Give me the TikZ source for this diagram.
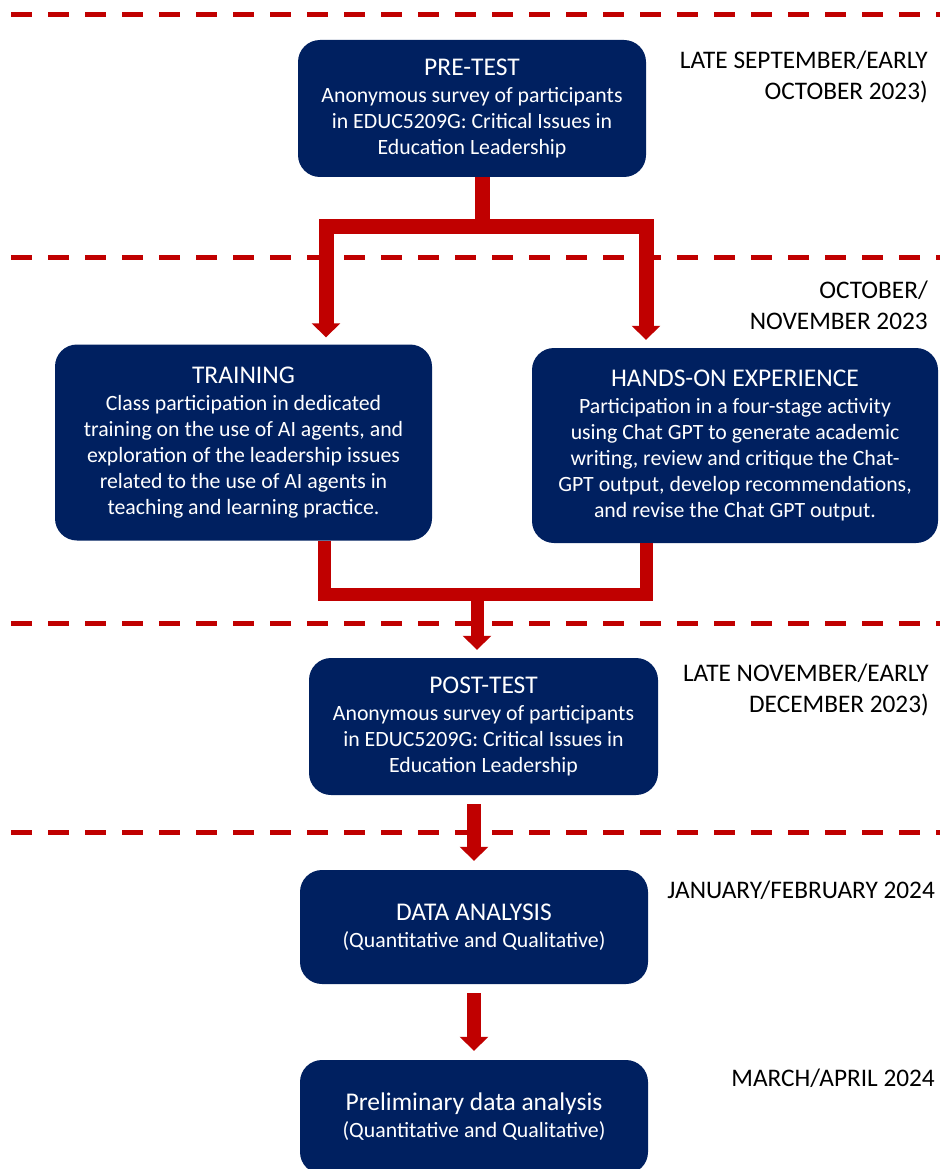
\documentclass[tikz,border=0pt]{standalone}
\usepackage{fontspec}
\setmainfont{Carlito}
\usepackage{xcolor}
\usepackage{tikz}
\usetikzlibrary{positioning}
\usetikzlibrary{arrows.meta}
\definecolor{navyblue}{HTML}{002060}
\definecolor{darkred}{HTML}{C00000}
\tikzset{>={Triangle[width=28pt,length=14pt]}}
\newcommand{\boxtitle}[1]{{\fontsize{25.5}{28}\selectfont #1}\\[1pt]}

\begin{document}
\begin{tikzpicture}[x=1pt, y=1pt, stagebox/.style={rounded corners=22pt, fill=navyblue, text=white, align=center, inner sep=0pt, font=\fontsize{21.8}{26}\selectfont}, datebox/.style={align=right, anchor=north east, inner sep=0pt, font=\fontsize{25.3}{31}\selectfont}, pipe/.style={draw=darkred, line width=15pt}, divider/.style={draw=darkred, line width=5pt, dash pattern=on 21pt off 16pt}]
    \useasboundingbox (0,0) rectangle (940,-1169);

    %Dividers
    \foreach \y in {15,257,623,832}
        \draw[divider] (11,-\y) -- (940,-\y);

    %Nodes
    \node[stagebox, minimum width=348pt, minimum height=137pt](pre_test) at (472,-108.5){\boxtitle{PRE-TEST}Anonymous survey of participants\\in EDUC5209G: Critical Issues in\\Education Leadership};
    \node[stagebox, minimum width=377pt, minimum height=196pt](training) at (243.5,-442.5){\boxtitle{TRAINING}Class participation in dedicated\\training on the use of AI agents, and\\exploration of the leadership issues\\related to the use of AI agents in\\teaching and learning practice.};
    \node[stagebox, minimum width=406pt, minimum height=195pt](hands_on) at (735,-445.5){\boxtitle{HANDS-ON EXPERIENCE}Participation in a four-stage activity\\using Chat GPT to generate academic\\writing, review and critique the Chat-\\GPT output, develop recommendations,\\and revise the Chat GPT output.};
    \node[stagebox, minimum width=349pt, minimum height=137pt](post_test) at (483.5,-726.5){\boxtitle{POST-TEST}Anonymous survey of participants\\in EDUC5209G: Critical Issues in\\Education Leadership};
    \node[stagebox, minimum width=348pt, minimum height=114pt](data_analysis) at (474,-927){\boxtitle{DATA ANALYSIS}(Quantitative and Qualitative)};
    \node[stagebox, minimum width=348pt, minimum height=114pt](prelim) at (474,-1117){\boxtitle{Preliminary data analysis}(Quantitative and Qualitative)};

    %Dates
    \node[datebox](date_pre) at (928,-50.5){LATE SEPTEMBER/EARLY\\OCTOBER 2023)};
    \node[datebox](date_mid) at (928,-280.5){OCTOBER/\\NOVEMBER 2023};
    \node[datebox](date_post) at (929,-663.5){LATE NOVEMBER/EARLY\\DECEMBER 2023)};
    \node[datebox](date_data) at (935,-880.5){JANUARY/FEBRUARY 2024};
    \node[datebox](date_prelim) at (935,-1068.5){MARCH/APRIL 2024};

    %Lines
    \coordinate (split_left) at (326,-226);
    \coordinate (split_right) at (646,-226);
    \coordinate (join_left) at (324,-594);
    \coordinate (join_right) at (646,-594);
    \coordinate (join) at (477,-594);
    \draw[pipe, ->, shorten >=7pt] ([xshift=10pt]pre_test.south) |- (split_left) -- (split_left |- training.north);
    \draw[pipe, ->, shorten >=8pt] ([xshift=10pt]pre_test.south) |- (split_right) -- (split_right |- hands_on.north);
    \draw[pipe, line width=13pt, ->, shorten >=8pt] (training.south -| join_left) |- (join) -- (join |- post_test.north);
    \draw[pipe, line width=13pt] (hands_on.south -| join_right) |- (join);
    \draw[pipe, line width=14pt, ->, shorten <=9pt, shorten >=9pt] (post_test.south -| data_analysis.north) -- (data_analysis.north);
    \draw[pipe, line width=14pt, ->, shorten <=9pt, shorten >=9pt] (data_analysis.south) -- (prelim.north);

\end{tikzpicture}
\end{document}
